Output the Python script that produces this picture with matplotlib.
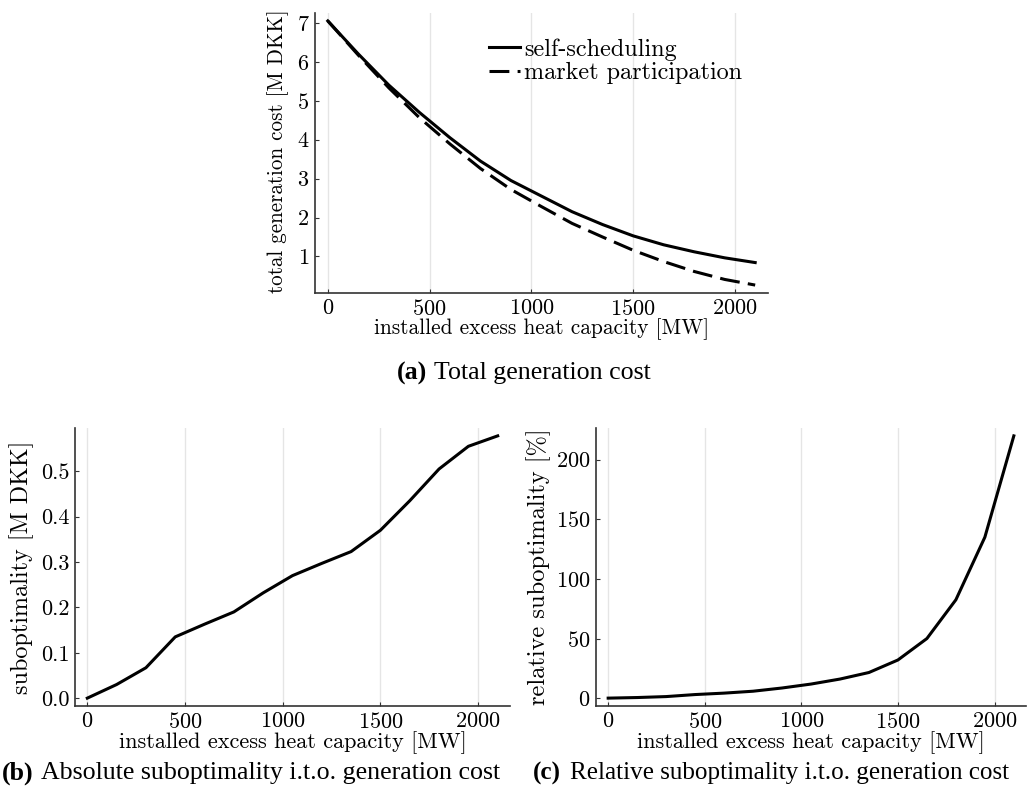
import numpy as np
import matplotlib
matplotlib.use("Agg")
import matplotlib.pyplot as plt
from matplotlib.ticker import MultipleLocator, FormatStrFormatter

# installed excess heat capacity [MW]
capacity = [0, 150, 300, 450, 600, 750, 900, 1050, 1200, 1350, 1500, 1650, 1800, 1950, 2100]

# total generation cost [M DKK]
cost_self = [7.05, 6.20, 5.40, 4.70, 4.05, 3.45, 2.95, 2.55, 2.15, 1.82, 1.53, 1.30, 1.12, 0.965, 0.843]
cost_market = [7.05, 6.17, 5.33, 4.565, 3.89, 3.26, 2.72, 2.28, 1.85, 1.50, 1.16, 0.87, 0.615, 0.41, 0.265]

# suboptimality of self-scheduling
subopt_abs = [0.0, 0.03, 0.067, 0.135, 0.163, 0.19, 0.232, 0.27, 0.297, 0.323, 0.37, 0.435, 0.505, 0.555, 0.578]
subopt_rel = [0.0, 0.5, 1.3, 3.0, 4.2, 5.8, 8.5, 11.8, 16.0, 21.5, 32.0, 50.0, 82.5, 135.0, 220.0]

plt.rcParams["font.family"] = "cmr10"
plt.rcParams["mathtext.fontset"] = "cm"
plt.rcParams["axes.formatter.use_mathtext"] = True

W, H = 1031, 798
fig = plt.figure(figsize=(W / 100, H / 100), dpi=100)


def box(x0, y0, x1, y1):
    # pixel box -> figure fraction
    return [x0 / W, 1 - y1 / H, (x1 - x0) / W, (y1 - y0) / H]


def style(ax, xlabel, ylabel, xsize, ysize, ylab_pos):
    ax.margins(x=0.03, y=0.03)
    ax.xaxis.set_major_locator(MultipleLocator(500))
    ax.grid(axis="x", color="black", alpha=0.1, lw=1)
    ax.set_axisbelow(True)
    for s in ["top", "right"]:
        ax.spines[s].set_visible(False)
    for s in ["left", "bottom"]:
        ax.spines[s].set_color("#333333")
        ax.spines[s].set_linewidth(1.2)
    ax.tick_params(direction="in", length=3, width=0.8, color="#333333",
                   labelsize=16, pad=4, labelcolor="black")
    ax.set_xlabel(xlabel, fontsize=xsize, labelpad=0)
    ax.set_ylabel(ylabel, fontsize=ysize)
    ax.yaxis.set_label_coords(*ylab_pos)


xlab = "installed excess heat capacity [MW]"

ax_a = fig.add_axes(box(315, 13, 768, 293))
ax_a.plot(capacity, cost_self, color="black", lw=2.2, label="self-scheduling")
ax_a.plot(capacity, cost_market, color="black", lw=2.2, dashes=(6.5, 2.7),
          label="market participation")
style(ax_a, xlab, "total generation cost [M DKK]", 15.4, 15.2, (-0.057, 0.507))
ax_a.yaxis.set_major_locator(MultipleLocator(1))
ax_a.legend(loc="upper left", bbox_to_anchor=(0.385, 0.91), frameon=False,
            fontsize=17.4, handlelength=1.25, handletextpad=0.2,
            labelspacing=0.05, borderaxespad=0, borderpad=0)

ax_b = fig.add_axes(box(75, 428, 510, 706))
ax_b.plot(capacity, subopt_abs, color="black", lw=2.2)
style(ax_b, xlab, "suboptimality [M DKK]", 16, 17.4, (-0.094, 0.5))
ax_b.yaxis.set_major_locator(MultipleLocator(0.1))
ax_b.yaxis.set_major_formatter(FormatStrFormatter("%.1f"))

ax_c = fig.add_axes(box(596, 428, 1026, 706))
ax_c.plot(capacity, subopt_rel, color="black", lw=2.2)
style(ax_c, xlab, "relative suboptimality [%]", 16, 17.6, (-0.105, 0.5))
ax_c.yaxis.set_major_locator(MultipleLocator(50))

# sub-figure captions
for x_lbl, x_txt, y, size, tag, txt in [
    (397, 434, 373, 18.6, "(a)", "Total generation cost"),
    (2, 41, 773, 18.6, "(b)", "Absolute suboptimality i.t.o. generation cost"),
    (533, 570, 773, 18.1, "(c)", "Relative suboptimality i.t.o. generation cost"),
]:
    cap = dict(family="Liberation Serif", fontsize=size, va="center")
    fig.text(x_lbl / W, 1 - y / H, tag, fontweight="bold", **cap)
    fig.text(x_txt / W, 1 - y / H, txt, **cap)

fig.savefig("out.png", dpi=100)
